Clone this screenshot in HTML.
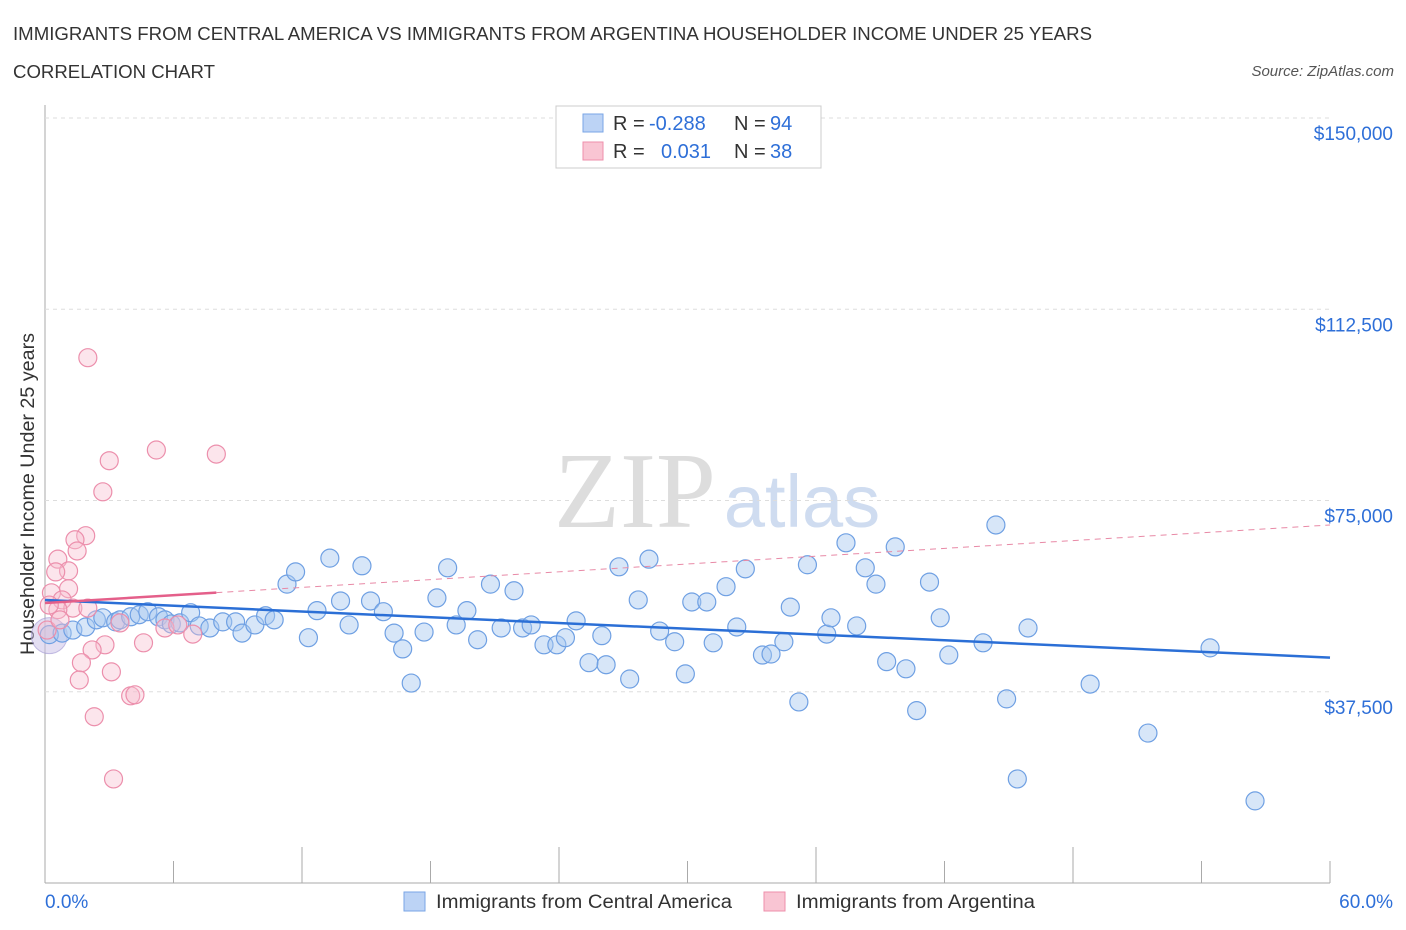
<!DOCTYPE html>
<html><head><meta charset="utf-8"><style>
body{margin:0;background:#fff;font-family:"Liberation Sans",sans-serif;}
svg{display:block}
</style></head><body>
<svg id="c" width="1406" height="930">
<text x="13" y="40" font-size="18" fill="#333" textLength="1079" lengthAdjust="spacingAndGlyphs">IMMIGRANTS FROM CENTRAL AMERICA VS IMMIGRANTS FROM ARGENTINA HOUSEHOLDER INCOME UNDER 25 YEARS</text>
<text x="13" y="78" font-size="18" fill="#333" textLength="202" lengthAdjust="spacingAndGlyphs">CORRELATION CHART</text>
<text x="1394" y="76" font-size="15" fill="#555" font-style="italic" text-anchor="end">Source: ZipAtlas.com</text>
<text x="635" y="527" font-size="108" fill="#ddd" font-family="Liberation Serif,serif" text-anchor="middle">ZIP</text>
<text x="802" y="527" font-size="74" fill="#cfdcf0" text-anchor="middle">atlas</text>
<text transform="translate(34,494) rotate(-90)" font-size="19" fill="#333" text-anchor="middle" textLength="322" lengthAdjust="spacingAndGlyphs">Householder Income Under 25 years</text>
<g id="grid"></g><g id="marks"></g>
<g>
<rect x="556" y="106" width="265" height="62" fill="#fff" stroke="#ccc"/>
<rect x="583" y="114" width="20" height="18" fill="#bcd3f5" stroke="#7aa6e6"/>
<text y="130" font-size="20" fill="#333" xml:space="preserve"><tspan x="613">R =</tspan><tspan x="649" fill="#2e6fd8">-0.288</tspan><tspan x="734">N =</tspan><tspan x="770" fill="#2e6fd8">94</tspan></text>
<rect x="583" y="142" width="20" height="18" fill="#f9c5d3" stroke="#ee8fab"/>
<text y="158" font-size="20" fill="#333" xml:space="preserve"><tspan x="613">R =</tspan><tspan x="661" fill="#2e6fd8">0.031</tspan><tspan x="734">N =</tspan><tspan x="770" fill="#2e6fd8">38</tspan></text>
</g>
<g>
<rect x="404" y="892" width="21" height="19" fill="#bcd3f5" stroke="#7aa6e6"/>
<text x="436" y="908" font-size="19" fill="#333" textLength="296" lengthAdjust="spacingAndGlyphs">Immigrants from Central America</text>
<rect x="764" y="892" width="21" height="19" fill="#f9c5d3" stroke="#ee8fab"/>
<text x="796" y="908" font-size="19" fill="#333" textLength="239" lengthAdjust="spacingAndGlyphs">Immigrants from Argentina</text>
</g>
</svg>
<script>
const yTicks=[150000,112500,75000,37500];
const yTickLabels=["$150,000","$112,500","$75,000","$37,500"];
const xTicks=[0,6,12,18,24,30,36,42,48,54,60];
const blueX=[0.2,0.8,1.3,1.9,2.4,2.7,3.3,3.5,4.0,4.4,4.8,5.3,5.6,5.9,6.3,6.8,7.2,7.7,8.3,8.9,9.2,9.8,10.3,10.7,11.3,11.7,12.3,12.7,13.3,13.8,14.2,14.8,15.2,15.8,16.3,16.7,17.1,17.7,18.3,18.8,19.2,19.7,20.2,20.8,21.3,21.9,22.3,22.7,23.3,23.9,24.3,24.8,25.4,26.0,26.2,26.8,27.3,27.7,28.2,28.7,29.4,29.9,30.2,30.9,31.2,31.8,32.3,32.7,33.5,33.9,34.5,34.8,35.2,35.6,36.5,36.7,37.4,37.9,38.3,38.8,39.3,39.7,40.2,40.7,41.3,41.8,42.2,43.8,44.4,44.9,45.4,45.9,48.8,51.5,54.4,56.5];
const blueY=[48.7,49.0,49.6,50.2,51.6,52.0,51.2,51.6,52.2,52.6,53.2,52.2,51.6,50.8,51.0,53.0,50.4,50.0,51.2,51.2,49.0,50.6,52.4,51.6,58.6,61.0,48.1,53.4,63.7,55.3,50.6,62.2,55.3,53.2,49.0,45.9,39.2,49.2,55.9,61.8,50.6,53.4,47.7,58.6,50.0,57.3,50.0,50.6,46.7,46.7,48.1,51.4,43.2,48.5,42.8,62.0,40.0,55.5,63.5,49.4,47.3,41.0,55.1,55.1,47.1,58.1,50.2,61.6,44.7,44.9,47.3,54.1,35.5,62.4,48.8,52.0,66.7,50.4,61.8,58.6,43.4,65.9,42.0,33.8,59.0,52.0,44.7,47.1,70.2,36.1,20.4,50.0,39.0,29.4,46.1,16.1];
const pinkX=[2.0,5.2,8.0,3.0,2.7,1.9,1.4,1.5,0.6,1.1,0.5,1.1,0.3,0.8,1.3,2.0,0.6,3.5,5.6,6.2,6.9,4.6,2.8,2.2,1.7,3.1,1.6,4.0,4.2,2.3,3.2,0.1,0.2,0.7];
const pinkY=[103.0,84.9,84.1,82.8,76.7,68.1,67.3,65.1,63.5,61.2,61.0,57.7,56.9,55.5,53.9,53.9,53.6,51.0,50.0,50.6,48.8,47.1,46.7,45.7,43.2,41.4,39.8,36.7,36.9,32.6,20.4,49.6,54.5,51.6];
const blueTrend=[55.5,44.2];
const pinkTrend=[54.9,70.2];
const pinkSolidEnd=8.0;

const NS="http://www.w3.org/2000/svg";
const X=p=>45+p/60*1285;
const Y=v=>883-v/150000*765;
function mk(t,a,parent){const e=document.createElementNS(NS,t);for(const k in a)e.setAttribute(k,a[k]);parent.appendChild(e);return e;}
const grid=document.getElementById('grid'),marks=document.getElementById('marks');
mk('line',{x1:45,y1:105,x2:45,y2:883,stroke:'#aaa','stroke-width':1},grid);
mk('line',{x1:45,y1:883,x2:1330,y2:883,stroke:'#aaa','stroke-width':1},grid);
yTicks.forEach((v,i)=>{
 const l=mk('line',{x1:45,y1:Y(v),x2:1330,y2:Y(v),stroke:'#ddd','stroke-dasharray':'4,4'},grid);
 
 
 const t=mk('text',{x:1393,y:Y(v)+22,'font-size':19,fill:'#2e6fd8','text-anchor':'end'},grid);
 t.textContent=yTickLabels[i];
 
 
});
xTicks.forEach(p=>{
 const l=mk('line',{x1:X(p),y1:883,x2:X(p),y2:p%12==0&&p>0&&p<60?847:861,stroke:'#aaa'},grid);
 
 
});
[[0,"0.0%",'start',45],[60,"60.0%",'end',1393]].forEach(a=>{
 const t=mk('text',{x:a[3],y:908,'font-size':19,fill:'#2e6fd8','text-anchor':a[2]},grid);
 t.textContent=a[1];
 
 
});
const big=mk('circle',{cx:X(0.2),cy:Y(48500),r:18,fill:'rgba(200,190,230,0.5)',stroke:'rgba(160,150,210,0.6)'},marks);


blueX.forEach((x,i)=>{
 const c=mk('circle',{cx:X(x),cy:Y(blueY[i]*1000),r:9,fill:'rgba(166,199,240,0.45)',stroke:'#6fa0e3','stroke-width':1.2},marks);
 
 
});
pinkX.forEach((x,i)=>{
 const c=mk('circle',{cx:X(x),cy:Y(pinkY[i]*1000),r:9,fill:'rgba(248,190,208,0.4)',stroke:'#ec8fac','stroke-width':1.2},marks);
 
 
});
const pv=p=>(pinkTrend[0]+(pinkTrend[1]-pinkTrend[0])*p/60)*1000;
const bl=mk('line',{x1:X(0),y1:Y(blueTrend[0]*1000),x2:X(60),y2:Y(blueTrend[1]*1000),stroke:'#2b6fd6','stroke-width':2.5},marks);


const pd=mk('line',{x1:X(pinkSolidEnd),y1:Y(pv(pinkSolidEnd)),x2:X(60),y2:Y(pv(60)),stroke:'#e889a6','stroke-width':1,'stroke-dasharray':'6,5'},marks);


const ps=mk('line',{x1:X(0),y1:Y(pv(0)),x2:X(pinkSolidEnd),y2:Y(pv(pinkSolidEnd)),stroke:'#e45f8a','stroke-width':2.5},marks);


</script>
</body></html>
